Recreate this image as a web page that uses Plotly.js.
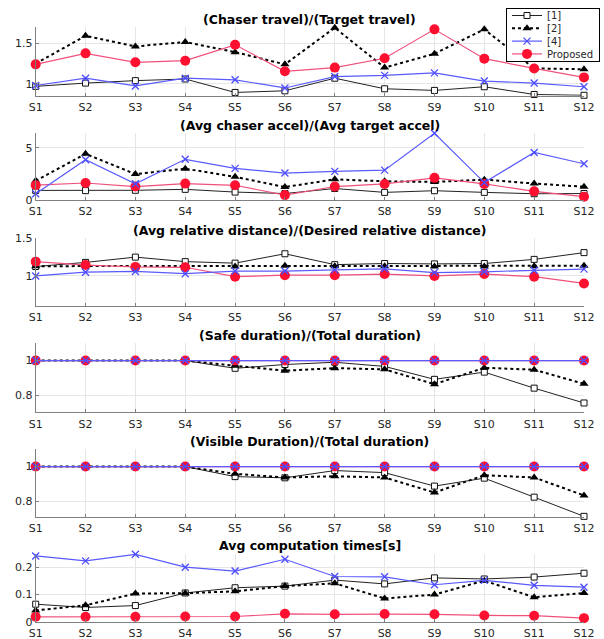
<!DOCTYPE html>
<html><head><meta charset="utf-8">
<script src="https://cdn.plot.ly/plotly-3.0.1.min.js"></script>
<style>html,body{margin:0;padding:0;background:#fff}#chart{width:604px;height:639px}</style>
</head><body><div id="chart"></div>
<script>
const scenarios = ['S1','S2','S3','S4','S5','S6','S7','S8','S9','S10','S11','S12'];
const methodNames = ['[1]','[2]','[4]','Proposed'];
const panelTitles = ['(Chaser travel)/(Target travel)','(Avg chaser accel)/(Avg target accel)',
  '(Avg relative distance)/(Desired relative distance)','(Safe duration)/(Total duration)',
  '(Visible Duration)/(Total duration)','Avg computation times[s]'];

const travel_ref1 = [0.97,1.01,1.04,1.06,0.895,0.915,1.07,0.94,0.92,0.965,0.87,0.86];
const travel_ref2 = [1.25,1.59,1.46,1.515,1.39,1.24,1.69,1.20,1.37,1.67,1.19,1.18];
const travel_ref4 = [0.98,1.07,0.975,1.07,1.05,0.95,1.09,1.105,1.135,1.035,1.01,0.965];
const travel_prop = [1.24,1.375,1.265,1.285,1.48,1.155,1.20,1.315,1.67,1.31,1.19,1.08];

const accel_ref1 = [0.92,0.9,0.93,1.02,0.76,0.62,1.1,0.73,0.89,0.73,0.6,0.62];
const accel_ref2 = [1.84,4.42,2.48,3.0,2.22,1.24,1.98,1.79,1.73,1.95,1.58,1.27];
const accel_ref4 = [0.6,3.85,1.55,3.9,3.03,2.58,2.74,2.86,6.39,1.67,4.55,3.47];
const accel_prop = [1.42,1.63,1.29,1.57,1.41,0.47,1.29,1.54,2.12,1.54,0.83,0.32];

const dist_ref1 = [1.125,1.18,1.25,1.19,1.17,1.295,1.15,1.165,1.16,1.165,1.22,1.31];
const dist_ref2 = [1.13,1.13,1.13,1.13,1.125,1.135,1.13,1.13,1.125,1.125,1.13,1.135];
const dist_ref4 = [1.0,1.05,1.06,1.03,1.065,1.065,1.08,1.095,1.045,1.055,1.075,1.09];
const dist_prop = [1.19,1.145,1.12,1.115,0.99,1.01,1.01,1.025,1.0,1.025,0.99,0.9];

const safe_ref1 = [1,1,1,1,0.955,0.977,0.99,0.966,0.891,0.933,0.84,0.754];
const safe_ref2 = [1,1,1,1,0.97,0.941,0.956,0.949,0.863,0.958,0.947,0.865];
const safe_ref4 = [1,1,1,1,1,1,1,1,1,1,1,1];
const safe_prop = [1,1,1,1,1,1,1,1,1,1,1,1];

const vis_ref1 = [1,1,1,1,0.942,0.935,0.977,0.965,0.887,0.933,0.823,0.712];
const vis_ref2 = [1,1,1,1,0.958,0.937,0.944,0.937,0.85,0.95,0.937,0.833];
const vis_ref4 = [1,1,1,1,1,1,1,1,1,1,1,1];
const vis_prop = [1,1,1,1,1,1,1,1,1,1,1,1];

const time_ref1 = [0.065,0.053,0.06,0.106,0.125,0.131,0.153,0.139,0.161,0.157,0.164,0.178];
const time_ref2 = [0.042,0.061,0.104,0.105,0.112,0.131,0.141,0.086,0.1,0.151,0.09,0.106];
const time_ref4 = [0.241,0.223,0.247,0.2,0.186,0.229,0.166,0.165,0.136,0.152,0.134,0.127];
const time_prop = [0.019,0.019,0.019,0.02,0.02,0.03,0.028,0.029,0.028,0.024,0.023,0.014];

const yRanges = [[0.855,1.695],[0,6.39],[0.6,1.5005],[0.7,1.1],[0.71,1.1],[0,0.25]];
const yTicks = [[1,1.5],[0,5],[1,1.5],[0.8,1],[0.8,1],[0,0.1,0.2]];
const yTickText = [['1','1.5'],['0','5'],['1','1.5'],['0.8','1'],['0.8','1'],['0','0.1','0.2']];

const panels = [
  [travel_ref1,travel_ref2,travel_ref4,travel_prop],
  [accel_ref1,accel_ref2,accel_ref4,accel_prop],
  [dist_ref1,dist_ref2,dist_ref4,dist_prop],
  [safe_ref1,safe_ref2,safe_ref4,safe_prop],
  [vis_ref1,vis_ref2,vis_ref4,vis_prop],
  [time_ref1,time_ref2,time_ref4,time_prop]
];

const H = 639, W = 604;
const pxTops = [27.3,133.3,238.3,343.3,449.3,553.5];
const pxBots = [95.7,200.0,306.0,412.3,516.7,622.0];
const xDom = [35.7/W, 584/W];

const styles = [
  {mode:'lines+markers', line:{color:'#222',width:1}, marker:{symbol:'square',size:6,color:'#fff',line:{color:'#111',width:1}}},
  {mode:'lines+markers', line:{color:'#000',width:2,dash:'dot'}, marker:{symbol:'triangle-up',size:8,color:'#000'}},
  {mode:'lines+markers', line:{color:'#5a5aff',width:1.2}, marker:{symbol:'x-thin-open',size:7,color:'#4b4bff',line:{color:'#4b4bff',width:1.3}}},
  {mode:'lines+markers', line:{color:'#f0507c',width:1.2}, marker:{symbol:'circle',size:10,color:'#ff1030'}}
];
const drawOrder = [0,1,3,2];

const traces = [];
const layout = {
  width:W, height:H, margin:{l:0,r:0,t:0,b:0}, paper_bgcolor:'#fff', plot_bgcolor:'#fff',
  font:{family:'DejaVu Sans', size:11, color:'#262626'},
  showlegend:true,
  legend:{x:600/W, y:1-8/H, xanchor:'right', yanchor:'top', bgcolor:'#fff', bordercolor:'#000', borderwidth:1,
          font:{family:'DejaVu Sans', size:10, color:'#262626'}, itemwidth:30, tracegroupgap:0},
  annotations:[]
};

panels.forEach((series, p) => {
  const k = p === 0 ? '' : String(p+1);
  const dom = [1 - pxBots[p]/H, 1 - pxTops[p]/H];
  layout['xaxis'+k] = {
    domain:xDom, anchor:'y'+k, type:'category', categoryorder:'array', categoryarray:scenarios,
    range:[0, scenarios.length-1], showgrid:true, gridcolor:'#e6e6e6', gridwidth:1,
    showline:true, linecolor:'#808080', linewidth:1, ticks:'inside', ticklen:3, tickcolor:'#808080',
    ticklabelstandoff:1,
    tickfont:{family:'DejaVu Sans', size:11, color:'#262626'}, fixedrange:true, zeroline:false
  };
  layout['yaxis'+k] = {
    domain:dom, anchor:'x'+k, range:yRanges[p], tickvals:yTicks[p], ticktext:yTickText[p],
    showgrid:true, gridcolor:'#e6e6e6', gridwidth:1, zeroline:false,
    showline:true, linecolor:'#808080', linewidth:1, ticks:'inside', ticklen:3, tickcolor:'#808080',
    tickfont:{family:'DejaVu Sans', size:11, color:'#262626'}, fixedrange:true
  };
  layout.annotations.push({
    text:'<b>'+panelTitles[p]+'</b>', xref:'paper', yref:'paper',
    x:(xDom[0]+xDom[1])/2, y:dom[1] + 7.5/H, xanchor:'center', yanchor:'middle',
    showarrow:false, font:{family:'DejaVu Sans', size:12.5, color:'#000'}
  });
  drawOrder.forEach(m => {
    const s = styles[m];
    traces.push({
      type:'scatter', x:scenarios, y:series[m], name:methodNames[m],
      xaxis:'x'+k, yaxis:'y'+k, mode:s.mode, line:s.line, marker:s.marker,
      cliponaxis:false, showlegend:p===0, legendrank:m+1, hoverinfo:'skip'
    });
  });
});

Plotly.newPlot('chart', traces, layout, {staticPlot:true, displayModeBar:false}).then(gd => {
  // tighten legend row spacing to match the compact reference legend
  const leg = gd.querySelector('g.legend');
  if (!leg) return;
  const items = Array.from(leg.querySelectorAll('g.traces'));
  const step = 12.8, first = 7.5;
  items.forEach((it, i) => {
    const tr = it.getAttribute('transform') || '';
    const m = tr.match(/translate\(([-\d.]+)[ ,]+([-\d.]+)\)/);
    const x = m ? parseFloat(m[1]) : 0;
    it.setAttribute('transform', 'translate(' + x + ',' + (first + i*step) + ')');
  });
  const bg = leg.querySelector('rect.bg');
  if (bg) bg.setAttribute('height', first + (items.length-1)*step + 7.5);
});
</script></body></html>
